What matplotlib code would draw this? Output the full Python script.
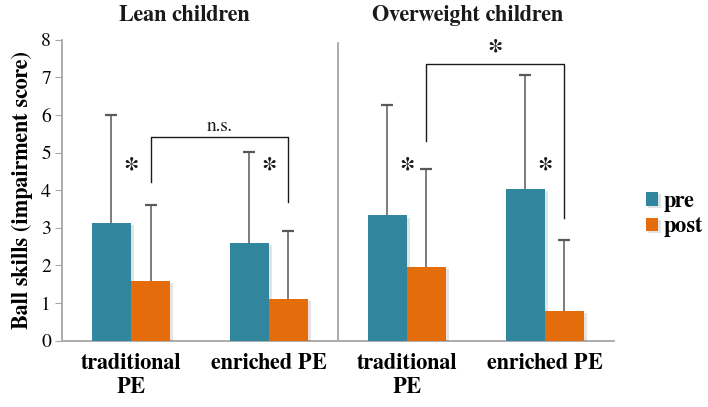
import numpy as np
import matplotlib
matplotlib.use("Agg")
import matplotlib.pyplot as plt
from matplotlib import patheffects as pe

FONT = "FreeSerif"
plt.rcParams["font.family"] = [FONT, "Liberation Serif", "DejaVu Serif"]

groups = ["traditional\nPE", "enriched PE", "traditional\nPE", "enriched PE"]
panel_titles = ["Lean children", "Overweight children"]
pre_mean = [3.13, 2.61, 3.33, 4.04]
pre_sd = [2.87, 2.42, 2.94, 3.02]
post_mean = [1.58, 1.12, 1.95, 0.80]
post_sd = [2.02, 1.81, 2.61, 1.89]

# brackets between post bars: (left group, right group, left bottom, top, right bottom, label)
brackets = [
    (0, 1, 4.22, 5.41, 3.68, "n.s."),
    (2, 3, 5.32, 7.37, 3.25, "*"),
]
star_y = 4.53

TEAL = "#31859C"
ORANGE = "#E46C0A"
GRAY = "#A6A6A6"
ERR = "#595959"
INK = "#1a1a1a"

fig = plt.figure(figsize=(7.08, 4.07), dpi=100)
ax = fig.add_axes([0.0876, 0.163, 0.867 - 0.0876, 0.902 - 0.163])

x = np.arange(len(groups))
w = 0.283
shadow = [pe.SimplePatchShadow(offset=(2, -1.5), alpha=0.12), pe.Normal()]
b1 = ax.bar(x - w / 2, pre_mean, w, color=TEAL, zorder=3, label="pre")
b2 = ax.bar(x + w / 2, post_mean, w, color=ORANGE, zorder=3, label="post")
for b in list(b1) + list(b2):
    b.set_path_effects(shadow)

# one-sided error bars (upper only)
for xs, m, sd in [(x - w / 2, pre_mean, pre_sd), (x + w / 2, post_mean, post_sd)]:
    top = np.array(m) + np.array(sd)
    ax.vlines(xs, m, top, color=ERR, lw=1.1, zorder=4)
    ax.plot(xs, top, ls="none", marker="_", ms=8, mew=1.6, color=ERR, zorder=4)

for gi in x:
    ax.text(gi, star_y, "*", ha="center", va="center", fontsize=22,
            fontweight="bold", color=INK, family=FONT)

for l, r, lb, top, rb, lab in brackets:
    xl, xr = l + w / 2, r + w / 2
    ax.plot([xl, xl, xr, xr], [lb, top, top, rb], color=INK, lw=1.0,
            zorder=4, clip_on=False)
    if lab == "*":
        ax.text((xl + xr) / 2, top + 0.3, lab, ha="center", va="center",
                fontsize=22, fontweight="bold", color=INK, family=FONT)
    else:
        ax.text((xl + xr) / 2, top + 0.06, lab, ha="center", va="bottom",
                fontsize=14, color=INK, family=FONT)

ax.axvline(1.5, ymin=0, ymax=0.99, color=GRAY, lw=1.3)

ax.set_xlim(-0.5, 3.5)
ax.set_ylim(0, 8)
ax.set_yticks(range(9))
ax.set_xticks(x)
ax.set_xticklabels(groups, fontsize=16, fontweight="bold", linespacing=1.2,
                   family=FONT)
for t in ax.get_yticklabels():
    t.set_family(FONT)
ax.tick_params(axis="x", length=0, pad=9)
ax.tick_params(axis="y", length=5, color=GRAY, labelsize=14, pad=3)
ax.set_ylabel("Ball skills (impairment score)", fontsize=16, fontweight="bold",
              labelpad=6, family=FONT)
for s in ["top", "right"]:
    ax.spines[s].set_visible(False)
for s in ["left", "bottom"]:
    ax.spines[s].set_color(GRAY)
    ax.spines[s].set_linewidth(1.3)

for tx, t in zip([0.385, 2.44], panel_titles):
    ax.text(tx, 8.66, t, ha="center", va="center", fontsize=16,
            fontweight="bold", clip_on=False, family=FONT, color=INK)

fig.legend(handles=[b1, b2], labels=["pre", "post"], loc="center left",
           bbox_to_anchor=(0.912, 0.474), frameon=False,
           prop={"family": FONT, "weight": "bold", "size": 16},
           handlelength=0.55, handleheight=0.55, handletextpad=0.25,
           labelspacing=0.2, borderpad=0, borderaxespad=0)

fig.savefig("out.png", dpi=100)
